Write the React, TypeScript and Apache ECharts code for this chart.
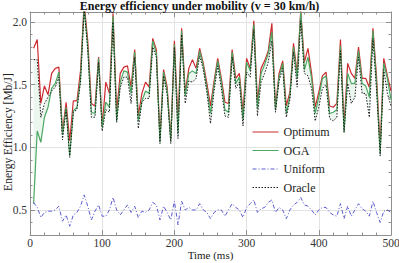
import React, { useEffect, useRef } from "react";
import * as echarts from "echarts";

// sampling instants (ms)
const times: number[] = Array.from({ length: 100 }, (_, i) => 5 * (i + 1));

const optimum = [
  1.79, 1.86, 1.35, 1.49, 1.42, 1.59, 1.63, 1.64, 1.12, 1.36,
  1.05, 1.37, 1.37, 1.61, 2.15, 1.85, 1.35, 1.33, 1.72, 1.17,
  1.52, 1.43, 2.07, 1.28, 1.59, 1.64, 1.65, 1.48, 1.78, 1.25,
  1.43, 1.52, 1.48, 1.87, 1.78, 1.07, 1.62, 1.48, 1.07, 1.85,
  1.21, 1.95, 1.44, 1.63, 1.70, 1.63, 1.79, 1.67, 1.51, 1.33,
  1.53, 1.71, 1.55, 1.36, 1.35, 1.78, 1.55, 1.59, 1.28, 1.71,
  1.63, 2.01, 1.36, 1.63, 1.69, 1.77, 1.99, 1.32, 1.59, 1.69,
  1.33, 1.44, 1.83, 1.59, 2.09, 1.68, 1.79, 1.59, 1.32, 1.44,
  1.57, 1.60, 1.33, 1.32, 1.35, 1.86, 1.17, 1.67, 1.59, 1.55,
  1.80, 1.55, 1.55, 1.48, 1.95, 1.56, 1.00, 1.71, 1.57, 1.45,
];

const oga = [
  0.55, 1.13, 1.04, 1.24, 1.32, 1.47, 1.51, 1.60, 1.10, 1.32,
  0.93, 1.29, 1.32, 1.55, 2.12, 1.80, 1.28, 1.27, 1.71, 1.16,
  1.36, 1.32, 2.05, 1.21, 1.52, 1.61, 1.60, 1.43, 1.76, 1.21,
  1.37, 1.45, 1.43, 1.85, 1.75, 1.04, 1.60, 1.45, 1.05, 1.82,
  1.11, 1.93, 1.41, 1.59, 1.61, 1.59, 1.77, 1.65, 1.47, 1.27,
  1.50, 1.69, 1.52, 1.30, 1.28, 1.76, 1.51, 1.56, 1.22, 1.68,
  1.61, 1.98, 1.31, 1.59, 1.66, 1.75, 1.92, 1.30, 1.56, 1.67,
  1.27, 1.41, 1.80, 1.55, 2.08, 1.62, 1.72, 1.55, 1.27, 1.40,
  1.55, 1.57, 1.27, 1.28, 1.30, 1.81, 1.12, 1.59, 1.51, 1.51,
  1.77, 1.51, 1.49, 1.40, 1.93, 1.51, 0.95, 1.67, 1.55, 1.38,
];

const uniform = [
  0.56, 0.52, 0.44, 0.48, 0.49, 0.49, 0.50, 0.53, 0.41, 0.46,
  0.37, 0.46, 0.48, 0.53, 0.62, 0.53, 0.42, 0.49, 0.54, 0.45,
  0.45, 0.50, 0.60, 0.50, 0.46, 0.50, 0.54, 0.48, 0.53, 0.44,
  0.49, 0.48, 0.50, 0.56, 0.54, 0.42, 0.53, 0.48, 0.42, 0.57,
  0.38, 0.57, 0.50, 0.52, 0.50, 0.50, 0.55, 0.50, 0.48, 0.43,
  0.48, 0.50, 0.50, 0.45, 0.50, 0.55, 0.52, 0.50, 0.44, 0.52,
  0.55, 0.58, 0.48, 0.51, 0.52, 0.56, 0.58, 0.48, 0.52, 0.50,
  0.43, 0.50, 0.54, 0.56, 0.60, 0.54, 0.53, 0.50, 0.46, 0.50,
  0.52, 0.52, 0.48, 0.46, 0.45, 0.55, 0.43, 0.53, 0.45, 0.50,
  0.55, 0.51, 0.49, 0.45, 0.57, 0.48, 0.40, 0.49, 0.50, 0.48,
];

const oracle = [
  1.70, 1.70, 1.24, 1.35, 1.40, 1.45, 1.48, 1.56, 1.06, 1.30,
  0.92, 1.28, 1.30, 1.52, 2.10, 1.78, 1.24, 1.24, 1.68, 1.13,
  1.30, 1.28, 2.00, 1.20, 1.48, 1.56, 1.56, 1.35, 1.72, 1.15,
  1.36, 1.39, 1.39, 1.80, 1.72, 1.03, 1.57, 1.42, 1.03, 1.80,
  1.07, 1.90, 1.35, 1.53, 1.52, 1.55, 1.73, 1.62, 1.44, 1.19,
  1.45, 1.65, 1.47, 1.25, 1.24, 1.72, 1.47, 1.52, 1.17, 1.60,
  1.56, 1.94, 1.25, 1.52, 1.59, 1.68, 1.85, 1.28, 1.53, 1.63,
  1.24, 1.38, 1.76, 1.48, 2.01, 1.59, 1.57, 1.47, 1.21, 1.32,
  1.47, 1.50, 1.23, 1.21, 1.24, 1.77, 1.12, 1.51, 1.35, 1.40,
  1.72, 1.43, 1.43, 1.24, 1.87, 1.45, 0.93, 1.62, 1.43, 1.33,
];

const seriesNames = ["Optimum", "OGA", "Uniform", "Oracle"];
const yTickValues = [0.5, 1.0, 1.5, 2.0];

const FONT = "Liberation Serif";
const FRAME = "#8f8f8f";
const GRID = "#e3e3e3";

export default function App() {
  const ref = useRef<HTMLDivElement>(null);

  useEffect(() => {
    if (!ref.current) return;
    const chart = echarts.init(ref.current, null, { renderer: "svg" });

    const pairs = (vals: number[]) => times.map((t, i) => [t, vals[i]]);
    const fillSegments = times
      .slice(0, -1)
      .map((t, i) => [t, times[i + 1], oga[i], oga[i + 1], oracle[i], oracle[i + 1]]);

    const yCommon = { type: "value", min: 0.3, max: 2.08, scale: true };

    const minorY = (position: string) => ({
      ...yCommon,
      position,
      interval: 0.1,
      axisLine: { show: true, lineStyle: { color: FRAME, width: 1 } },
      axisTick: { show: true, inside: true, length: 2.5, lineStyle: { color: FRAME } },
      axisLabel: { show: false },
      splitLine: { show: false },
    });
    const majorY = (position: string, labels: boolean, split: boolean) => ({
      ...yCommon,
      position,
      splitNumber: 4,
      axisLine: { show: false },
      axisTick: { show: true, inside: true, length: 5, customValues: yTickValues, lineStyle: { color: FRAME } },
      axisLabel: {
        show: labels,
        customValues: yTickValues,
        formatter: (v: number) => v.toFixed(1),
        fontFamily: FONT,
        fontSize: 11.5,
        color: "#333",
        margin: 3,
      },
      splitLine: { show: split, lineStyle: { color: GRID, width: 1 } },
    });

    const xAx = (position: string, labels: boolean, split: boolean) => ({
      type: "value",
      position,
      min: 0,
      max: 500,
      interval: 100,
      axisLine: { show: true, onZero: false, lineStyle: { color: FRAME, width: 1 } },
      axisTick: { show: true, inside: true, length: 5, lineStyle: { color: FRAME } },
      minorTick: { show: true, splitNumber: 5, length: 2.5, lineStyle: { color: FRAME } },
      axisLabel: { show: labels, fontFamily: FONT, fontSize: 11.5, color: "#333", margin: 2 },
      splitLine: { show: split, lineStyle: { color: GRID, width: 1 } },
      minorSplitLine: { show: false },
    });

    const option: any = {
      animation: false,
      backgroundColor: "#ffffff",
      title: {
        text: "Energy efficiency under mobility (v = 30 km/h)",
        left: "center",
        top: 0,
        padding: [0, 0, 0, 18],
        textStyle: { fontFamily: FONT, fontSize: 12, fontWeight: "bold", color: "#111" },
      },
      grid: { left: 30, right: 8, top: 12, bottom: 28, containLabel: false, outerBoundsMode: "none" },
      legend: {
        data: seriesNames,
        orient: "vertical",
        left: 252,
        top: 126,
        padding: 0,
        itemWidth: 26,
        itemHeight: 8,
        itemGap: 6.5,
        itemStyle: { opacity: 0 },
        lineStyle: { width: 1 },
        textStyle: { fontFamily: FONT, fontSize: 12, color: "#222" },
      },
      graphic: [
        {
          type: "text",
          x: 8,
          y: 132,
          rotation: Math.PI / 2,
          style: {
            text: "Energy Efficiency [Mb/J]",
            fontFamily: FONT,
            fontSize: 11.5,
            fill: "#222",
            align: "center",
            verticalAlign: "middle",
          },
        },
      ],
      xAxis: [
        {
          ...xAx("bottom", true, true),
          name: "Time (ms)",
          nameLocation: "middle",
          nameGap: 14,
          nameMoveOverlap: false,
          nameTextStyle: { fontFamily: FONT, fontSize: 11, color: "#222" },
        },
        xAx("top", false, false),
      ],
      yAxis: [
        minorY("left"),
        majorY("left", true, true),
        minorY("right"),
        majorY("right", false, false),
      ],
      series: [
        {
          name: "fill",
          type: "custom",
          data: fillSegments,
          encode: { x: [0, 1], y: [2, 3, 4, 5] },
          silent: true,
          clip: true,
          z: 1,
          renderItem: (params: any, api: any) => {
            const t0 = api.value(0);
            const t1 = api.value(1);
            const p1 = api.coord([t0, api.value(2)]);
            const p2 = api.coord([t1, api.value(3)]);
            const p3 = api.coord([t1, api.value(5)]);
            const p4 = api.coord([t0, api.value(4)]);
            return {
              type: "polygon",
              shape: { points: [p1, p2, p3, p4] },
              style: { fill: "rgba(120, 200, 140, 0.15)", stroke: "none" },
            };
          },
        },
        {
          name: "Optimum",
          type: "line",
          data: pairs(optimum),
          symbol: "none",
          color: "#cc2a2e",
          lineStyle: { color: "#cc2a2e", width: 1.2 },
          z: 3,
        },
        {
          name: "OGA",
          type: "line",
          data: pairs(oga),
          symbol: "none",
          color: "#4aa862",
          lineStyle: { color: "#4aa862", width: 1.2 },
          z: 4,
        },
        {
          name: "Uniform",
          type: "line",
          data: pairs(uniform),
          symbol: "none",
          color: "#5c5cd0",
          lineStyle: { color: "#5c5cd0", width: 1, type: [4, 2, 1, 2] },
          z: 5,
        },
        {
          name: "Oracle",
          type: "line",
          data: pairs(oracle),
          symbol: "none",
          color: "#1a1a1a",
          lineStyle: { color: "#1a1a1a", width: 1, type: [1.5, 1.5] },
          z: 6,
        },
      ],
    };

    chart.setOption(option);
    return () => chart.dispose();
  }, []);

  return (
    <div
      ref={ref}
      style={{ position: "fixed", left: 0, top: 0, width: 399, height: 263, background: "#fff" }}
    />
  );
}
